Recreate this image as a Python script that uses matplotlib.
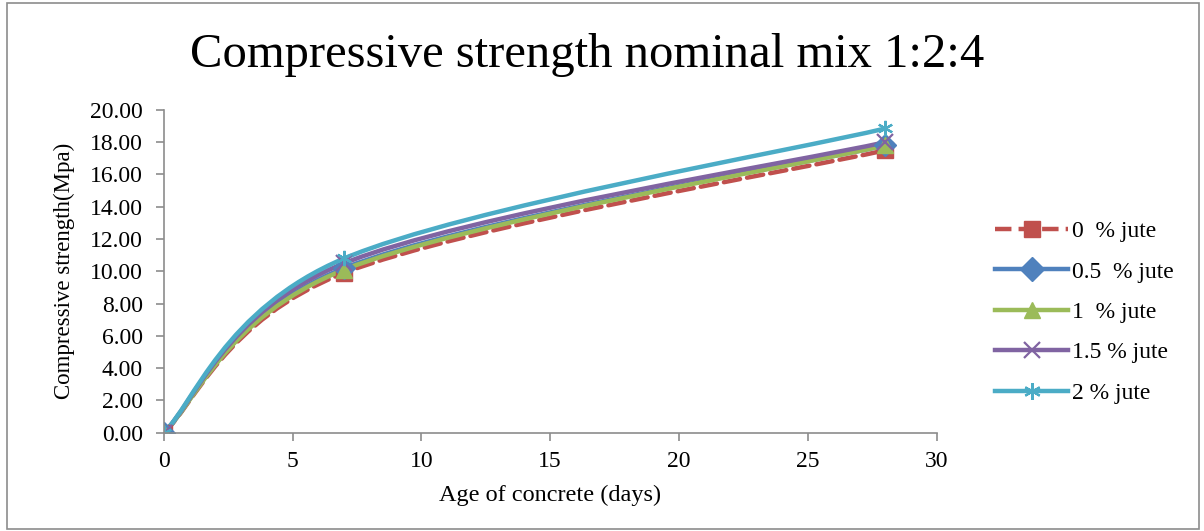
import numpy as np
import matplotlib
matplotlib.use("Agg")
import matplotlib.pyplot as plt
from matplotlib.path import Path
from matplotlib.patches import PathPatch, Rectangle
from matplotlib.lines import Line2D

plt.rcParams['font.family'] = ['Liberation Serif', 'DejaVu Serif']

# data
age_days = [0, 7, 28]
series_labels = ["0  % jute", "0.5  % jute", "1  % jute", "1.5 % jute", "2 % jute"]
strength_0 = [0.0, 9.9, 17.5]
strength_05 = [0.0, 10.2, 17.8]
strength_1 = [0.0, 10.1, 17.8]
strength_15 = [0.0, 10.5, 18.0]
strength_2 = [0.0, 10.8, 18.85]

colors = ["#C0504D", "#4F81BD", "#9BBB59", "#8064A2", "#4BACC6"]
markers = ["s", "D", "^", "x", (6, 2, 0)]
styles = ["--", "-", "-", "-", "-"]


def smooth_path(xs, ys):
    # excel-like smoothed line as cubic bezier segments
    pts = np.column_stack([xs, ys]).astype(float)
    n = len(pts)
    verts = [pts[0]]
    codes = [Path.MOVETO]
    for i in range(n - 1):
        p0 = pts[i - 1] if i > 0 else pts[i]
        p1 = pts[i]
        p2 = pts[i + 1]
        p3 = pts[i + 2] if i + 2 < n else pts[i + 1]
        c1 = p1 + (p2 - p0) / 6.0
        c2 = p2 - (p3 - p1) / 6.0
        verts += [c1, c2, p2]
        codes += [Path.CURVE4] * 3
    return Path(verts, codes)


fig = plt.figure(figsize=(12.04, 5.31), dpi=100)
fig.patches.append(Rectangle((0.006, 0.004), 0.99, 0.99, transform=fig.transFigure,
                             fill=False, edgecolor="#8c8c8c", linewidth=1.2))
ax = fig.add_axes([0.136, 0.185, 0.642, 0.608])

all_series = [strength_0, strength_05, strength_1, strength_15, strength_2]
handles = []
for vals, lab, col, mk, ls in zip(all_series, series_labels, colors, markers, styles):
    patch = PathPatch(smooth_path(age_days, vals), facecolor="none", edgecolor=col,
                      linewidth=3.2, linestyle=ls, capstyle="round")
    ax.add_patch(patch)
    mew = 1.6 if mk in ("x", (6, 2, 0)) else 1
    ax.plot(age_days, vals, linestyle="none", marker=mk, markersize=11, color=col,
            markeredgewidth=mew)
    handles.append(Line2D([], [], color=col, linestyle=ls, linewidth=3.2, marker=mk,
                          markersize=12, markeredgewidth=mew, label=lab))

ax.set_xlim(0, 30)
ax.set_ylim(0, 20)
ax.set_xticks(np.arange(0, 31, 5))
ax.set_yticks(np.arange(0, 21, 2))
ax.set_yticklabels([f"{v:.2f}" for v in np.arange(0, 21, 2)])
for side in ["top", "right"]:
    ax.spines[side].set_visible(False)
for side in ["left", "bottom"]:
    ax.spines[side].set_color("#8c8c8c")
    ax.spines[side].set_linewidth(1.2)
ax.tick_params(colors="#8c8c8c", labelcolor="black", labelsize=17, length=6, width=1.2)
ax.tick_params(axis="x", pad=7)
ax.tick_params(axis="y", pad=9)

ax.set_xlabel("Age of concrete (days)", fontsize=17.5, labelpad=9)
ax.set_ylabel("Compressive strength(Mpa)", fontsize=16.5, labelpad=11)
fig.text(0.488, 0.896, "Compressive strength nominal mix 1:2:4", fontsize=35,
         ha="center", va="center")

fig.legend(handles=handles, loc="center left", bbox_to_anchor=(0.809, 0.412),
           frameon=False, fontsize=17, handlelength=3.1, labelspacing=0.8,
           handletextpad=0.15)

fig.savefig("out.png", dpi=100)
